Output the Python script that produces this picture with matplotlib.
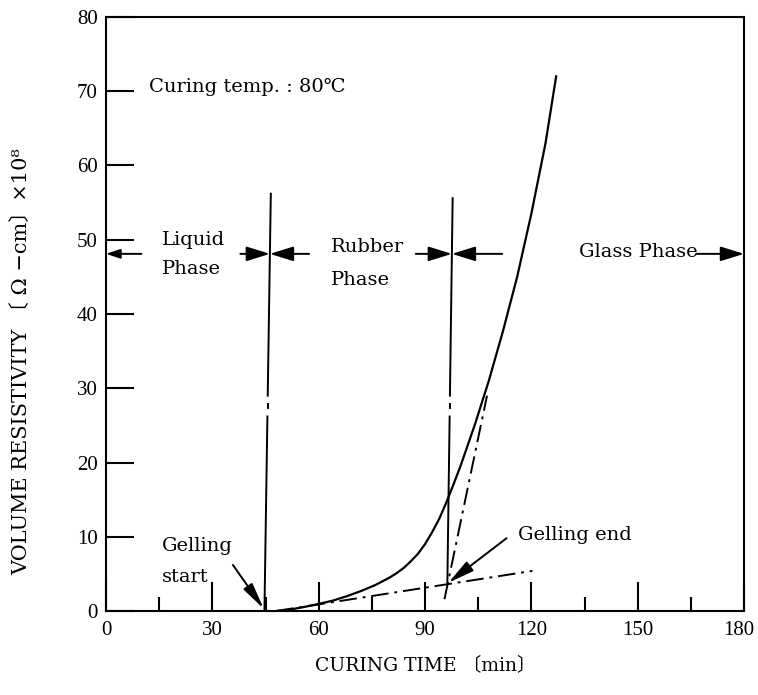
import numpy as np
import matplotlib
matplotlib.use("Agg")
import matplotlib.pyplot as plt
import matplotlib.transforms as mtransforms
from matplotlib.patches import FancyArrowPatch

# ---- data ----
time_min = [48, 52, 56, 60, 64, 68, 72, 76, 80, 82, 84, 86, 88, 90, 92, 94, 96, 98, 100, 104, 108, 112, 116, 120, 124, 127]
resistivity = [0, 0.2, 0.55, 0.95, 1.4, 2.0, 2.7, 3.5, 4.5, 5.1, 5.8, 6.7, 7.7, 9.0, 10.6, 12.4, 14.6, 17.0, 19.5, 25.0, 31.0, 37.7, 45.0, 53.5, 63.0, 72.0]

gel_start_line_x = [44.7, 46.5]
gel_start_line_y = [0, 56.2]
gel_end_line_x = [96.3, 97.8]
gel_end_line_y = [3.6, 55.6]
line_gap_y = [26.2, 29.0]

low_tangent_x = [48, 120.3]
low_tangent_y = [0, 5.4]
steep_tangent_x = [95.5, 107.5]
steep_tangent_y = [1.6, 29.0]

x_major = [0, 30, 60, 90, 120, 150, 180]
x_minor = [15, 45, 75, 105, 135, 165]
y_ticks = [0, 10, 20, 30, 40, 50, 60, 70, 80]

phase_arrow_y = 48.1

FONT = ['DejaVu Serif', 'DejaVu Sans', 'Noto Sans CJK JP']
TICKFONT = ['Liberation Serif', 'DejaVu Serif']
plt.rcParams['font.family'] = FONT

fig = plt.figure(figsize=(7.58, 6.95), dpi=100)
ax = fig.add_axes([106 / 758, 1 - 611 / 695, (744 - 106) / 758, (611 - 17) / 695])
ax.set_xlim(0, 180)
ax.set_ylim(0, 80)

for s in ax.spines.values():
    s.set_linewidth(1.5)

ax.set_xticks(x_major)
ax.set_xticks(x_minor, minor=True)
ax.set_yticks(y_ticks)
ax.tick_params(axis='x', which='major', direction='in', length=21, width=1.5, pad=7)
ax.tick_params(axis='x', which='minor', direction='in', length=10, width=1.5)
ax.tick_params(axis='y', which='major', direction='in', length=20, width=1.5, pad=6)
ax.tick_params(top=False, right=False)
for lbl in ax.get_xticklabels() + ax.get_yticklabels():
    lbl.set_fontfamily(TICKFONT)
    lbl.set_fontsize(15)
last = ax.xaxis.get_major_ticks()[-1].label1
last.set_transform(last.get_transform() + mtransforms.ScaledTranslation(-4 / 72, 0, fig.dpi_scale_trans))

ax.set_xlabel('CURING TIME 〔min〕', fontsize=13.5, labelpad=12)
ax.set_ylabel('VOLUME RESISTIVITY 〔 Ω −cm〕×10⁸', fontsize=15)
ax.yaxis.set_label_coords(-0.118, 0.42)

# main curve
ax.plot(time_min, resistivity, color='black', lw=1.6)

# tangents (dash-dot)
dd = (0, (9, 3, 1.5, 3))
ax.plot(low_tangent_x, low_tangent_y, color='black', lw=1.4, linestyle=dd)
ax.plot(steep_tangent_x, steep_tangent_y, color='black', lw=1.4, linestyle=dd)

# vertical boundary lines with small dash-dot gap
def boundary(xs, ys):
    g0, g1 = line_gap_y
    xg0 = np.interp(g0, ys, xs)
    xg1 = np.interp(g1, ys, xs)
    gm = (g0 + g1) / 2
    xgm = np.interp(gm, ys, xs)
    ax.plot([xs[0], xg0], [ys[0], g0], color='black', lw=1.4)
    ax.plot([xg1, xs[1]], [g1, ys[1]], color='black', lw=1.4)
    ax.plot([xgm, xgm], [gm - 0.3, gm + 0.3], color='black', lw=1.4)

boundary(gel_start_line_x, gel_start_line_y)
boundary(gel_end_line_x, gel_end_line_y)

def arrow(x0, y0, x1, y1, style='-|>,head_length=0.9,head_width=0.28', ms=16, lw=1.4):
    p = FancyArrowPatch((x0, y0), (x1, y1), arrowstyle=style, mutation_scale=ms,
                        color='black', lw=lw, shrinkA=0, shrinkB=0)
    ax.add_patch(p)

ya = phase_arrow_y
xs_line = np.interp(ya, gel_start_line_y, gel_start_line_x)
xe_line = np.interp(ya, gel_end_line_y, gel_end_line_x)
# Liquid phase arrow to axis
arrow(10.0, ya, 0.0, ya, style='-|>,head_length=0.6,head_width=0.2', ms=14)
# arrows at gelling start line
arrow(37.9, ya, xs_line, ya)
arrow(57.3, ya, xs_line, ya)
# arrows at gelling end line
arrow(87.4, ya, xe_line, ya)
arrow(111.8, ya, xe_line, ya)
# glass phase arrow
arrow(166.5, ya, 180.0, ya)

# gelling arrows
arrow(35.8, 6.2, 44.5, 0.3, style='-|>,head_length=1.0,head_width=0.2', ms=16)
arrow(113.0, 9.8, 96.6, 3.8, style='-|>,head_length=1.0,head_width=0.22', ms=16)

fs = 14
ax.text(12.0, 70.6, 'Curing temp. : 80℃', fontsize=fs, va='center', ha='left')
ax.text(15.8, 50.0, 'Liquid', fontsize=fs, va='center', ha='left')
ax.text(15.8, 46.0, 'Phase', fontsize=fs, va='center', ha='left')
ax.text(63.5, 49.0, 'Rubber', fontsize=fs, va='center', ha='left')
ax.text(63.5, 44.6, 'Phase', fontsize=fs, va='center', ha='left')
ax.text(166.8, 48.3, 'Glass Phase', fontsize=fs, va='center', ha='right')
ax.text(15.8, 8.7, 'Gelling', fontsize=fs, va='center', ha='left')
ax.text(15.8, 4.6, 'start', fontsize=fs, va='center', ha='left')
ax.text(116.3, 10.3, 'Gelling end', fontsize=fs, va='center', ha='left')

fig.savefig('out.png', dpi=100)
